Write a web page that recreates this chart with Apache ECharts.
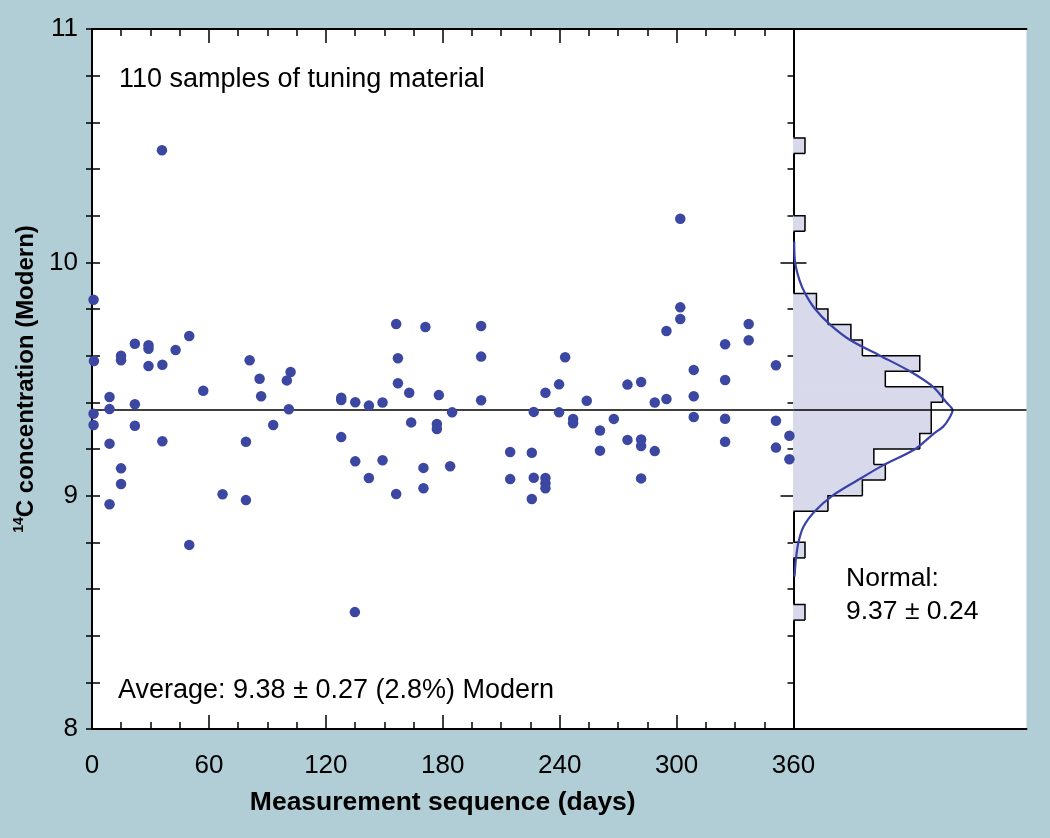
<!DOCTYPE html>
<html>
<head>
<meta charset="utf-8">
<title>14C tuning material</title>
<script src="https://cdn.jsdelivr.net/npm/echarts@6/dist/echarts.min.js"></script>
<style>
html, body { margin: 0; padding: 0; background: #b1cdd5; }
#chart { width: 1050px; height: 838px; }
</style>
</head>
<body>
<div id="chart"></div>
<script>
// measurement day and 14C concentration (Modern) of each sample
const days = [
  0.8, 1, 9, 9, 0.8, 0.8, 9, 14.9, 14.9, 14.9,
  14.9, 9, 22, 22, 22, 29, 29, 29, 36.1, 36.1,
  35.9, 42.9, 49.9, 49.9, 57.1, 67, 79, 79, 80.9, 86,
  86.8, 93, 100, 101.9, 101, 127.9, 127.9, 127.9, 135.1, 135.1,
  142.1, 142.1, 149.1, 149.1, 156.1, 156.1, 157, 157, 162.8, 163.8,
  170.1, 170.1, 171.1, 177, 177, 178, 183.8, 184.8, 199.7, 199.7,
  199.7, 214.6, 214.6, 225.7, 226.7, 226.7, 225.7, 232.7, 232.7, 232.7,
  232.7, 239.7, 239.7, 242.8, 246.9, 246.9, 253.9, 260.7, 260.7, 267.8,
  274.8, 274.8, 281.8, 281.8, 281.8, 281.8, 288.8, 288.8, 294.8, 294.8,
  301.9, 301.9, 301.9, 308.8, 308.8, 308.8, 324.9, 324.9, 324.9, 324.9,
  337, 337, 351, 351, 351, 357.9, 357.9, 134.9
];
const conc = [
  9.84, 9.577, 9.423, 9.371, 9.351, 9.303, 9.223, 9.60, 9.58, 9.117,
  9.05, 8.963, 9.651, 9.392, 9.30, 9.645, 9.63, 9.556, 9.561, 9.233,
  10.48, 9.624, 9.684, 8.789, 9.45, 9.006, 9.231, 8.981, 9.58, 9.501,
  9.426, 9.303, 9.494, 9.53, 9.37, 9.42, 9.41, 9.251, 9.40, 9.147,
  9.386, 9.076, 9.399, 9.152, 9.736, 9.007, 9.589, 9.482, 9.441, 9.314,
  9.119, 9.032, 9.723, 9.307, 9.286, 9.431, 9.126, 9.357, 9.727, 9.596,
  9.409, 9.187, 9.071, 9.184, 9.359, 9.077, 8.986, 9.076, 9.053, 9.032,
  9.441, 9.477, 9.357, 9.593, 9.329, 9.31, 9.407, 9.279, 9.193, 9.329,
  9.476, 9.239, 9.487, 9.241, 9.213, 9.074, 9.399, 9.191, 9.706, 9.414,
  10.187, 9.807, 9.757, 9.539, 9.426, 9.337, 9.649, 9.496, 9.33, 9.231,
  9.736, 9.666, 9.559, 9.321, 9.206, 9.257, 9.156, 8.501
];
const meanLine = 9.37;

// histogram: lower edge of each bin and its count
const binWidth = 0.2 / 3;
const binLo = [8.4667, 8.7333, 8.9333, 9.0, 9.0667, 9.1333, 9.2, 9.2667, 9.3333,
  9.4, 9.4667, 9.5333, 9.6, 9.6667, 9.7333, 9.8, 10.1333, 10.4667];
const binCount = [1, 1, 3, 6, 8, 7, 11, 12, 12, 13, 8, 11, 6, 5, 3, 2, 1, 1];

// fitted normal curve
const curveConc = [8.653, 8.724, 8.8, 8.867, 8.934, 9.0, 9.064, 9.131, 9.199, 9.264, 9.296, 9.332,
  9.366, 9.399, 9.466, 9.533, 9.6, 9.667, 9.733, 9.8, 9.867, 9.924, 10.0, 10.088];
const curveCount = [0.09, 0.2, 0.43, 0.87, 1.88, 3.4, 5.51, 7.83, 10.58, 12.17, 13.04, 13.57,
  13.86, 13.33, 12.17, 10.14, 7.54, 4.93, 3.19, 1.88, 1.01, 0.52, 0.14, 0.06];

const dayTicks = [0, 60, 120, 180, 240, 300, 360];
const concTicks = [8, 9, 10, 11];

const FONT = 'Liberation Sans, Arial, Helvetica, sans-serif';
const HIST_FILL = '#d9d9ec';
const black = { color: '#000', width: 2 };
const tickStyle = { color: '#000', width: 1.5 };

const chart = echarts.init(document.getElementById('chart'));

const histRender = (params, api) => {
  const i = params.dataIndex;
  const lo = binLo[i];
  const hi = lo + binWidth;
  const c = binCount[i];
  const above = binLo.findIndex(l => Math.abs(l - hi) < 0.005);
  const below = binLo.findIndex(l => Math.abs(l + binWidth - lo) < 0.005);
  const cAbove = above >= 0 ? binCount[above] : 0;
  const p0 = api.coord([0, hi]);
  const p1 = api.coord([c, lo]);
  const children = [
    {
      type: 'rect',
      shape: { x: p0[0], y: p0[1], width: p1[0] - p0[0], height: p1[1] - p0[1] },
      style: { fill: HIST_FILL, stroke: HIST_FILL, lineWidth: 1 }
    },
    {
      type: 'polyline',
      shape: { points: [api.coord([cAbove, hi]), api.coord([c, hi]), api.coord([c, lo])] },
      style: { stroke: '#000', lineWidth: 1.5, fill: 'none' },
      z2: 10
    }
  ];
  if (below < 0) {
    const q = api.coord([0, lo]);
    children.push({
      type: 'line',
      shape: { x1: q[0], y1: q[1], x2: p1[0], y2: p1[1] },
      style: { stroke: '#000', lineWidth: 1.5 },
      z2: 10
    });
  }
  return { type: 'group', children };
};

chart.setOption({
  backgroundColor: '#b1cdd5',
  animation: false,
  grid: [
    { left: 92, top: 29, width: 701.5, height: 700, show: true, backgroundColor: '#fff', borderWidth: 0 },
    { left: 793.5, top: 29, width: 233, height: 700, show: true, backgroundColor: '#fff', borderWidth: 0 }
  ],
  xAxis: [
    {
      gridIndex: 0, type: 'value', min: 0, max: 360, interval: 60, position: 'bottom',
      axisLine: { lineStyle: black },
      axisTick: { inside: true, length: 14, lineStyle: tickStyle },
      minorTick: { show: true, splitNumber: 4, length: 7, lineStyle: tickStyle },
      splitLine: { show: false },
      axisLabel: {
        margin: 24, fontSize: 26, fontFamily: FONT, color: '#000',
        formatter: v => dayTicks.includes(v) ? String(v) : ''
      },
      name: 'Measurement sequence (days)',
      nameLocation: 'middle', nameGap: 60,
      nameTextStyle: { fontSize: 26.5, fontWeight: 'bold', fontFamily: FONT, color: '#000' }
    },
    {
      gridIndex: 0, type: 'value', min: 0, max: 360, interval: 60, position: 'top',
      axisLine: { lineStyle: black },
      axisTick: { inside: true, length: 14, lineStyle: tickStyle },
      minorTick: { show: true, splitNumber: 4, length: 7, lineStyle: tickStyle },
      splitLine: { show: false },
      axisLabel: { show: false }
    },
    {
      gridIndex: 1, type: 'value', min: 0, max: 20.3, position: 'bottom',
      axisLine: { lineStyle: black }, axisTick: { show: false },
      axisLabel: { show: false }, splitLine: { show: false }
    },
    {
      gridIndex: 1, type: 'value', min: 0, max: 20.3, position: 'top',
      axisLine: { lineStyle: black }, axisTick: { show: false },
      axisLabel: { show: false }, splitLine: { show: false }
    }
  ],
  yAxis: [
    {
      gridIndex: 0, type: 'value', min: 8, max: 11, interval: 1, position: 'left',
      axisLine: { lineStyle: black },
      axisTick: { inside: true, length: 8, lineStyle: tickStyle },
      minorTick: { show: true, splitNumber: 5, length: 8, lineStyle: tickStyle },
      splitLine: { show: false },
      axisLabel: {
        margin: 14, fontSize: 26, fontFamily: FONT, color: '#000', padding: [4, 0, 0, 0],
        formatter: v => concTicks.includes(v) ? String(v) : ''
      },
      name: '{sup|14}{main|C concentration (Modern)}',
      nameLocation: 'middle', nameGap: 46, nameRotate: 90,
      nameTextStyle: {
        color: '#000',
        rich: {
          sup: { fontSize: 14, fontWeight: 'bold', fontFamily: FONT, color: '#000', verticalAlign: 'top', lineHeight: 15 },
          main: { fontSize: 24, fontWeight: 'bold', fontFamily: FONT, color: '#000', lineHeight: 28 }
        }
      }
    },
    {
      gridIndex: 0, type: 'value', min: 8, max: 11, interval: 1, position: 'right',
      axisLine: { lineStyle: black },
      axisTick: { inside: true, length: 6, lineStyle: tickStyle },
      minorTick: { show: true, splitNumber: 5, length: 6, lineStyle: tickStyle },
      splitLine: { show: false }, axisLabel: { show: false }
    },
    {
      gridIndex: 1, type: 'value', min: 8, max: 11, interval: 1, position: 'left',
      axisLine: { show: false },
      axisTick: { inside: true, length: 13, lineStyle: tickStyle },
      splitLine: { show: false }, axisLabel: { show: false }
    },
    {
      gridIndex: 1, type: 'value', min: 8, max: 11, interval: 1, position: 'right',
      axisLine: { lineStyle: black },
      axisTick: { inside: true, length: 13, lineStyle: tickStyle },
      minorTick: { show: true, splitNumber: 5, length: 6, lineStyle: tickStyle },
      splitLine: { show: false }, axisLabel: { show: false }
    }
  ],
  series: [
    {
      type: 'custom',
      xAxisIndex: 2, yAxisIndex: 3,
      renderItem: histRender,
      data: binLo.map((lo, i) => [binCount[i], lo]),
      z: 2
    },
    {
      type: 'line',
      xAxisIndex: 2, yAxisIndex: 3,
      data: curveConc.map((v, i) => [curveCount[i], v]),
      smooth: 0.3,
      showSymbol: false,
      lineStyle: { color: '#3a42a8', width: 2.2 },
      markLine: {
        silent: true, symbol: 'none', label: { show: false },
        lineStyle: { color: '#000', width: 1.5, type: 'solid' },
        data: [{ yAxis: meanLine }]
      },
      z: 4
    },
    {
      type: 'scatter',
      xAxisIndex: 0, yAxisIndex: 0,
      data: days.map((d, i) => [d, conc[i]]),
      symbolSize: 10.5,
      clip: false,
      itemStyle: { color: '#3b47a1', opacity: 1 },
      markLine: {
        silent: true, symbol: 'none', label: { show: false },
        lineStyle: { color: '#000', width: 1.5, type: 'solid' },
        data: [{ yAxis: meanLine }]
      },
      z: 5
    }
  ],
  graphic: [
    {
      type: 'text', x: 119, y: 80,
      style: { text: '110 samples of tuning material', font: '27px ' + FONT, fill: '#000', verticalAlign: 'middle' }
    },
    {
      type: 'text', x: 118, y: 691,
      style: { text: 'Average: 9.38 \u00b1 0.27 (2.8%) Modern', font: '27px ' + FONT, fill: '#000', verticalAlign: 'middle' }
    },
    {
      type: 'text', x: 846, y: 579,
      style: { text: 'Normal:', font: '26.5px ' + FONT, fill: '#000', verticalAlign: 'middle' }
    },
    {
      type: 'text', x: 846, y: 612,
      style: { text: '9.37 \u00b1 0.24', font: '26.5px ' + FONT, fill: '#000', verticalAlign: 'middle' }
    }
  ]
});
</script>
</body>
</html>
